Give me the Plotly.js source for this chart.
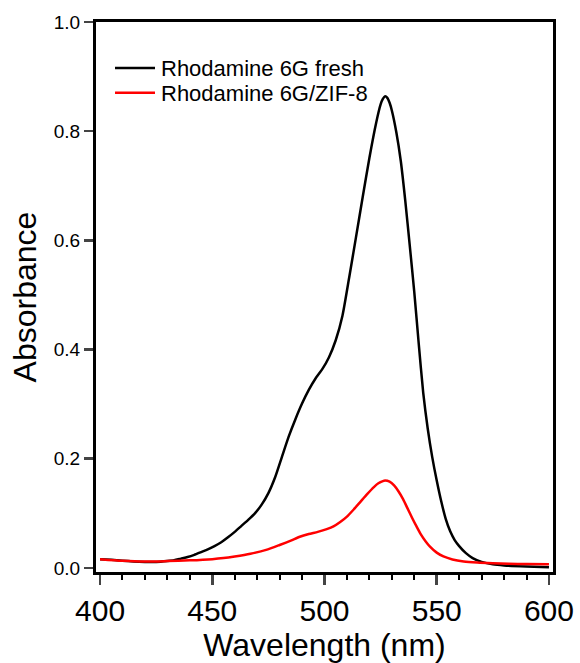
<!DOCTYPE html>
<html>
<head>
<meta charset="utf-8">
<script src="https://cdn.plot.ly/plotly-3.0.1.min.js"></script>
<style>html,body{margin:0;padding:0;background:#fff;}#chart{width:580px;height:663px;}</style>
</head>
<body>
<div id="chart"></div>
<script>
const freshWavelength = [400,405,410,415,420,425,430,433,436,439,442,445,448,451,454,457,460,463,466,469,472,475,478,481,484,487,490,493,496,499,502,505,508,511,514,517,520,523,525,526,527,528,529,530,532,534,536,538,540,542,544,546,548,550,552,554,556,558,560,563,566,570,575,580,590,600];
const freshAbsorbance = [0.016,0.0148,0.0133,0.0118,0.011,0.0108,0.0125,0.014,0.017,0.020,0.024,0.029,0.034,0.040,0.047,0.056,0.066,0.077,0.088,0.100,0.116,0.137,0.166,0.203,0.240,0.272,0.301,0.326,0.347,0.364,0.386,0.417,0.462,0.532,0.605,0.679,0.751,0.815,0.849,0.859,0.864,0.861,0.852,0.838,0.798,0.745,0.672,0.590,0.505,0.410,0.320,0.255,0.203,0.160,0.122,0.090,0.067,0.051,0.040,0.027,0.018,0.011,0.0065,0.0045,0.0025,0.001];

const zifWavelength = [400,410,420,430,440,450,455,460,467,474,480,485,489,493,497,501,504,507,510,513,516,519,522,524,526,527,529,531,533,535,537,539,541,543,545,547,550,553,557,562,568,575,582,590,600];
const zifAbsorbance = [0.016,0.013,0.0116,0.0125,0.0138,0.016,0.018,0.021,0.026,0.033,0.042,0.050,0.057,0.062,0.066,0.071,0.076,0.084,0.094,0.107,0.121,0.135,0.148,0.155,0.159,0.160,0.158,0.151,0.140,0.126,0.109,0.092,0.076,0.061,0.049,0.039,0.028,0.021,0.0155,0.0118,0.0098,0.0085,0.0076,0.007,0.0068];

const seriesNames = ['Rhodamine 6G fresh', 'Rhodamine 6G/ZIF-8'];
const seriesColors = ['#000000', '#ff0000'];
const xTitle = 'Wavelength (nm)';
const yTitle = 'Absorbance';

const FONT = 'Liberation Sans, Arial, sans-serif';

const traces = [
  {x: freshWavelength, y: freshAbsorbance, type: 'scatter', mode: 'lines', name: seriesNames[0],
   line: {color: seriesColors[0], width: 2.5, shape: 'spline', smoothing: 0.6}},
  {x: zifWavelength, y: zifAbsorbance, type: 'scatter', mode: 'lines', name: seriesNames[1],
   line: {color: seriesColors[1], width: 2.5, shape: 'spline', smoothing: 0.6}}
];

// legend drawn in paper coordinates (sample line + label)
const legendRowsY = [0.9165, 0.8715];
const shapes = [];
const annotations = [];
seriesNames.forEach((name, i) => {
  shapes.push({type: 'line', xref: 'paper', yref: 'paper', x0: 0.0416, x1: 0.1291,
               y0: legendRowsY[i], y1: legendRowsY[i], line: {color: seriesColors[i], width: 2.5}});
  annotations.push({xref: 'paper', yref: 'paper', x: 0.137, y: legendRowsY[i] - 0.001,
                    xanchor: 'left', yanchor: 'middle', showarrow: false, text: name,
                    font: {family: FONT, size: 22, color: '#000'}});
});

const layout = {
  width: 580, height: 663,
  margin: {l: 96, r: 27, t: 22, b: 91, pad: 0},
  paper_bgcolor: '#ffffff', plot_bgcolor: '#ffffff',
  font: {family: FONT, color: '#000000'},
  showlegend: false,
  shapes: shapes,
  annotations: annotations,
  xaxis: {
    range: [398.2, 601.8], tick0: 400, dtick: 50, ticks: 'outside', ticklen: 10, tickwidth: 2.5,
    showline: true, linewidth: 3, linecolor: '#000', mirror: true, showgrid: false, zeroline: false,
    tickfont: {family: FONT, size: 30, color: '#000'},
    minor: {dtick: 10, tick0: 400, ticks: 'outside', ticklen: 5, tickwidth: 2, tickcolor: '#000', showgrid: false},
    title: {text: xTitle, font: {family: FONT, size: 32, color: '#000'}, standoff: 4}
  },
  yaxis: {
    range: [-0.0075, 1.0], tick0: 0, dtick: 0.2, tickformat: '.1f', ticks: 'outside', ticklen: 9, tickwidth: 2.5,
    showline: true, linewidth: 3, linecolor: '#000', mirror: true, showgrid: false, zeroline: false,
    tickfont: {family: FONT, size: 19, color: '#000'},
    title: {text: yTitle, font: {family: FONT, size: 32, color: '#000'}, standoff: 8}
  }
};

Plotly.newPlot('chart', traces, layout, {displayModeBar: false, staticPlot: true});
</script>
</body>
</html>
